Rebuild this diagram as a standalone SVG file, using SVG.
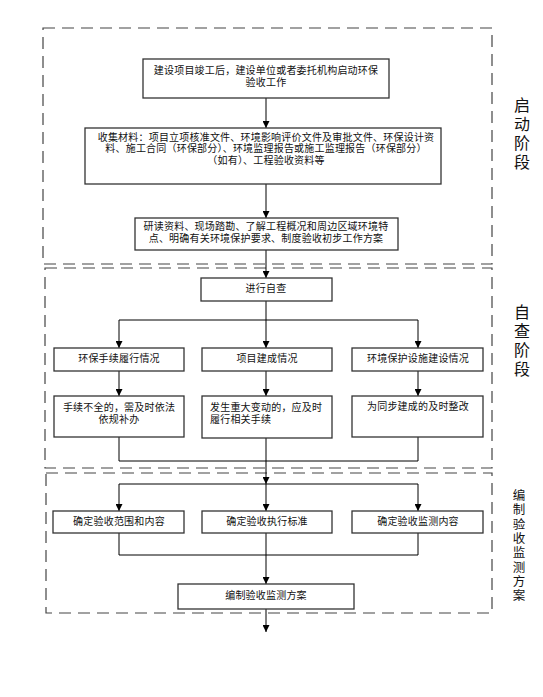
<svg xmlns="http://www.w3.org/2000/svg" width="543" height="697" viewBox="0 0 543 697">
<style>
.bg{fill:#fff}
.box{fill:#fff;stroke:#333;stroke-width:1.3}
.stage{fill:none;stroke:#444;stroke-width:1.2;stroke-dasharray:12 7}
.t{font-family:"Liberation Sans","Noto Sans CJK SC",sans-serif;font-size:10px;fill:#111;text-anchor:middle;letter-spacing:0.2px}
.tl{font-family:"Liberation Sans","Noto Sans CJK SC",sans-serif;font-size:10px;fill:#111;letter-spacing:0.2px}
.v{font-family:"Liberation Sans","Noto Sans CJK SC",sans-serif;font-size:16px;fill:#111;text-anchor:middle}
.vs{font-family:"Liberation Sans","Noto Sans CJK SC",sans-serif;font-size:12.5px;fill:#111;text-anchor:middle}
.ln{fill:none;stroke:#000;stroke-width:1}
.ar{fill:none;stroke:#000;stroke-width:1;marker-end:url(#ah)}
</style>
<defs>
<marker id="ah" viewBox="0 0 8 8" refX="8" refY="4" markerWidth="7" markerHeight="7" orient="auto" markerUnits="userSpaceOnUse"><path d="M0,0 L8,4 L0,8 z" fill="#000"/></marker>
</defs>
<rect class="bg" x="0" y="0" width="543" height="697"/>

<g id="stages">
<rect class="stage" x="43" y="28" width="449" height="236"/>
<rect class="stage" x="45" y="268" width="447" height="200"/>
<rect class="stage" x="46" y="473" width="446" height="140"/>
<g id="stage1-label">
<text class="v"><tspan x="522" y="111">启</tspan><tspan x="522" y="130">动</tspan><tspan x="522" y="149">阶</tspan><tspan x="522" y="168">段</tspan></text>
</g>
<g id="stage2-label">
<text class="v"><tspan x="522" y="318">自</tspan><tspan x="522" y="337">查</tspan><tspan x="522" y="356">阶</tspan><tspan x="522" y="375">段</tspan></text>
</g>
<g id="stage3-label">
<text class="vs"><tspan x="519" y="500">编</tspan><tspan x="519" y="514.3">制</tspan><tspan x="519" y="528.6">验</tspan><tspan x="519" y="542.9">收</tspan><tspan x="519" y="557.2">监</tspan><tspan x="519" y="571.5">测</tspan><tspan x="519" y="585.8">方</tspan><tspan x="519" y="600.1">案</tspan></text>
</g>
</g>

<g id="connectors">
<line class="ar" x1="266" y1="98" x2="266" y2="128"/>
<line class="ar" x1="266" y1="184" x2="266" y2="218"/>
<line class="ar" x1="266" y1="250" x2="266" y2="278"/>
<line class="ln" x1="266" y1="301" x2="266" y2="320"/>
<line class="ln" x1="119" y1="320" x2="418" y2="320"/>
<line class="ar" x1="119" y1="320" x2="119" y2="348"/>
<line class="ar" x1="266" y1="320" x2="266" y2="348"/>
<line class="ar" x1="418" y1="320" x2="418" y2="348"/>
<line class="ar" x1="119" y1="371" x2="119" y2="396"/>
<line class="ar" x1="266" y1="371" x2="266" y2="396"/>
<line class="ar" x1="418" y1="371" x2="418" y2="396"/>
<line class="ln" x1="119" y1="437" x2="119" y2="461"/>
<line class="ln" x1="266" y1="438" x2="266" y2="461"/>
<line class="ln" x1="418" y1="437" x2="418" y2="461"/>
<line class="ln" x1="119" y1="461" x2="418" y2="461"/>
<line class="ar" x1="266" y1="461" x2="266" y2="484"/>
<line class="ln" x1="119" y1="484" x2="418" y2="484"/>
<line class="ar" x1="119" y1="484" x2="119" y2="511"/>
<line class="ar" x1="266" y1="484" x2="266" y2="511"/>
<line class="ar" x1="418" y1="484" x2="418" y2="511"/>
<line class="ln" x1="119" y1="533" x2="119" y2="555"/>
<line class="ln" x1="266" y1="533" x2="266" y2="555"/>
<line class="ln" x1="418" y1="533" x2="418" y2="555"/>
<line class="ln" x1="119" y1="555" x2="418" y2="555"/>
<line class="ar" x1="266" y1="555" x2="266" y2="584"/>
<line class="ar" x1="266" y1="609" x2="266" y2="632"/>
</g>

<g id="n1">
<rect class="box" x="143" y="59" width="246" height="39"/>
<text class="t"><tspan x="266" y="74">建设项目竣工后，建设单位或者委托机构启动环保</tspan><tspan x="266" y="86">验收工作</tspan></text>
</g>
<g id="n2">
<rect class="box" x="85" y="128" width="356" height="56"/>
<text class="t"><tspan x="266" y="140.5">收集材料：项目立项核准文件、环境影响评价文件及审批文件、环保设计资</tspan><tspan x="266" y="152">料、施工合同（环保部分）、环境监理报告或施工监理报告（环保部分）</tspan><tspan x="266" y="163.5">（如有）、工程验收资料等</tspan></text>
</g>
<g id="n3">
<rect class="box" x="135" y="218" width="263" height="32"/>
<text class="t"><tspan x="266" y="230">研读资料、现场踏勘、了解工程概况和周边区域环境特</tspan><tspan x="266" y="242">点、明确有关环境保护要求、制度验收初步工作方案</tspan></text>
</g>
<g id="n4">
<rect class="box" x="201" y="278" width="131" height="23"/>
<text class="t" x="266" y="292">进行自查</text>
</g>
<g id="n5">
<rect class="box" x="54" y="348" width="130" height="23"/>
<text class="t" x="119" y="362">环保手续履行情况</text>
</g>
<g id="n6">
<rect class="box" x="202" y="348" width="130" height="23"/>
<text class="t" x="267" y="362">项目建成情况</text>
</g>
<g id="n7">
<rect class="box" x="352" y="348" width="131" height="23"/>
<text class="t" x="418" y="362">环境保护设施建设情况</text>
</g>
<g id="n8">
<rect class="box" x="54" y="396" width="130" height="41"/>
<text class="t"><tspan x="119" y="411">手续不全的，需及时依法</tspan><tspan x="119" y="423">依规补办</tspan></text>
</g>
<g id="n9">
<rect class="box" x="202" y="396" width="130" height="42"/>
<text class="tl"><tspan x="210" y="411">发生重大变动的，应及时</tspan><tspan x="210" y="423">履行相关手续</tspan></text>
</g>
<g id="n10">
<rect class="box" x="352" y="396" width="131" height="41"/>
<text class="t" x="418" y="410">为同步建成的及时整改</text>
</g>
<g id="n11">
<rect class="box" x="53" y="511" width="131" height="22"/>
<text class="t" x="119" y="525">确定验收范围和内容</text>
</g>
<g id="n12">
<rect class="box" x="202" y="511" width="130" height="22"/>
<text class="t" x="267" y="525">确定验收执行标准</text>
</g>
<g id="n13">
<rect class="box" x="352" y="511" width="131" height="22"/>
<text class="t" x="418" y="525">确定验收监测内容</text>
</g>
<g id="n14">
<rect class="box" x="178" y="584" width="176" height="25"/>
<text class="t" x="266" y="599">编制验收监测方案</text>
</g>
</svg>
